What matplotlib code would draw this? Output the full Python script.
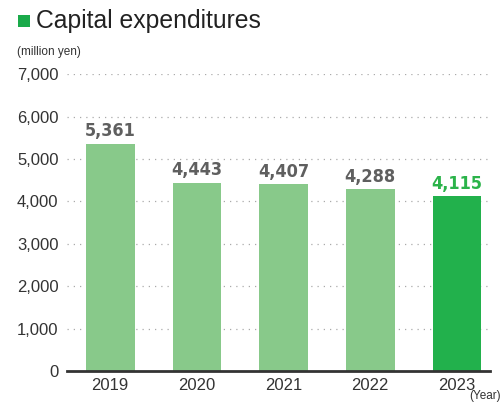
import matplotlib
matplotlib.use("Agg")
from matplotlib import pyplot as plt
from matplotlib.patches import Rectangle
from matplotlib.ticker import FuncFormatter

years = ["2019", "2020", "2021", "2022", "2023"]
capex = [5361, 4443, 4407, 4288, 4115]
yticks = [0, 1000, 2000, 3000, 4000, 5000, 6000, 7000]

light = "#88c98a"
dark = "#22b14c"
colors = [light, light, light, light, dark]
label_colors = ["#5f5f5f"] * 4 + ["#2bb34a"]

plt.rcParams["font.family"] = ["Liberation Sans", "DejaVu Sans"]

fig = plt.figure(figsize=(5.03, 4.05), dpi=100)
ax = fig.add_axes([0.133, 0.084, 0.841, 0.733])

x = range(len(years))
ax.bar(x, capex, width=0.56, color=colors, zorder=2)

for i, v in enumerate(capex):
    ax.text(i, v + 80, f"{v:,}", ha="center", va="bottom", fontsize=13,
            fontweight="bold", family="DejaVu Sans", fontstretch="condensed",
            color=label_colors[i])

ax.set_xlim(-0.5, 4.38)
ax.set_ylim(0, 7000)
ax.set_yticks(yticks)
ax.yaxis.set_major_formatter(FuncFormatter(lambda v, p: f"{int(v):,}"))
ax.set_xticks(list(x))
ax.set_xticklabels(years)
ax.tick_params(axis="both", length=0, labelsize=12, labelcolor="#333333")
ax.tick_params(axis="y", pad=6)
ax.tick_params(axis="x", pad=5)

for v in yticks[1:]:
    ax.axhline(v, color="#aaaaaa", linestyle=(0, (1, 4)), linewidth=0.9, zorder=1)

for s in ["top", "right", "left"]:
    ax.spines[s].set_visible(False)
ax.spines["bottom"].set_color("#333333")
ax.spines["bottom"].set_linewidth(2)
ax.spines["bottom"].set_zorder(3)

# title with green square marker
fig.patches.append(Rectangle((0.036, 0.933), 0.024, 0.03, transform=fig.transFigure,
                             facecolor="#1aaa4a", edgecolor="none"))
fig.text(0.072, 0.948, "Capital expenditures", fontsize=17.8, color="#222222",
         va="center", ha="left")
fig.text(0.034, 0.872, "(million yen)", fontsize=8.5, color="#333333", va="center")
fig.text(0.995, 0.022, "(Year)", fontsize=8.5, color="#333333", va="center", ha="right")

fig.savefig("out.png", dpi=100)
